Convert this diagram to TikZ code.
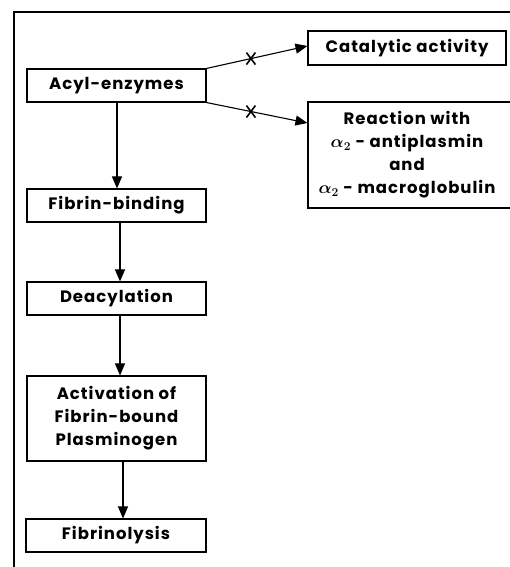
\documentclass[tikz,border=0pt]{standalone}
\usepackage{fontspec}
\setmainfont{Poppins}[UprightFont=* SemiBold, BoldFont=* Bold, LetterSpace=6]
\usetikzlibrary{arrows.meta,calc}
\begin{document}
\begin{tikzpicture}[x=1pt,y=1pt,
  txt/.style={font=\fontsize{16.5}{23}\selectfont\bfseries\boldmath},
  box/.style={draw,line width=1.1pt,inner sep=0pt,align=center,txt},
  arr/.style={line width=1.1pt,-{Triangle[length=12pt,width=10pt]}},
  cross/.style={line width=1.6pt}]
\useasboundingbox (0,0) rectangle (510,567);
\begin{scope}
\clip (0,0) rectangle (510,567);
% outer frame
\draw[line width=1.8pt] (14,-2) -- (14,555) -- (512,555);
% boxes
\node[box,minimum width=179pt,minimum height=33pt] (acyl) at (116.5,481.5) {Acyl-enzymes};
\node[box,minimum width=198pt,minimum height=34pt] (cat) at (407,519) {Catalytic activity};
\node[box,minimum width=210pt,minimum height=106pt] (react) at (413,412) {};
\node[align=center,txt,inner sep=0pt] (reacttxt) at (407,412)
  {Reaction with\\ $\alpha_2$ - antiplasmin\\ and\\ $\alpha_2$ - macroglobulin};
\node[box,minimum width=179pt,minimum height=33pt] (fibrin) at (116.5,361.5) {Fibrin-binding};
\node[box,minimum width=179pt,minimum height=33pt] (deacyl) at (116.5,268.5) {Deacylation};
\node[box,minimum width=179pt,minimum height=85pt] (activ) at (116.5,148.5) {Activation of\\ Fibrin-bound\\ Plasminogen};
\node[box,minimum width=180pt,minimum height=33pt] (lysis) at (116,31.5) {Fibrinolysis};
% vertical arrows
\draw[arr] (acyl.south -| 117,0) -- (fibrin.north -| 117,0);
\draw[arr] (fibrin.south -| 120,0) -- (deacyl.north -| 120,0);
\draw[arr] (deacyl.south -| 120,0) -- (activ.north -| 120,0);
\draw[arr] (activ.south -| 123,0) -- (lysis.north -| 123,0);
% blocked arrows
\draw[arr] (acyl.north east) -- (cat.west |- 0,521) coordinate[pos=0.44] (x1);
\draw[arr] (acyl.south east) -- (react.west |- 0,444) coordinate[pos=0.44] (x2);
\draw[cross] ($(x1)+(-4.5,-6)$) -- ($(x1)+(4.5,6)$) ($(x1)+(-4.5,6)$) -- ($(x1)+(4.5,-6)$);
\draw[cross] ($(x2)+(-4.5,-6)$) -- ($(x2)+(4.5,6)$) ($(x2)+(-4.5,6)$) -- ($(x2)+(4.5,-6)$);
\end{scope}
\end{tikzpicture}
\end{document}
